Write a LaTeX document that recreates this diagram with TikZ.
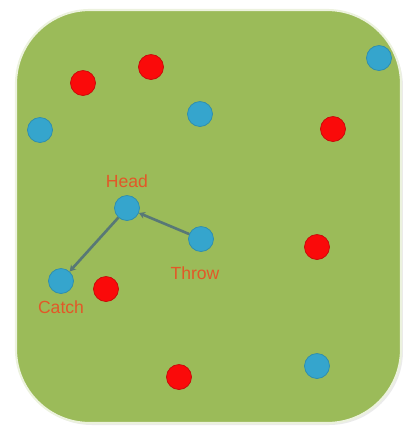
\documentclass[tikz,border=0pt]{standalone}
\usepackage{fontspec}
\setmainfont{Liberation Sans}
\usepackage{tikz}
\usetikzlibrary{positioning, arrows.meta}
\usepackage{xcolor}
\definecolor{field}{RGB}{155, 187, 89}
\definecolor{fieldrim}{RGB}{236, 242, 222}
\definecolor{teamA}{RGB}{53, 165, 205}
\definecolor{teamB}{RGB}{250, 10, 10}
\definecolor{pass}{RGB}{88, 120, 118}
\definecolor{tag}{RGB}{226, 88, 40}

\tikzset{
  bluedot/.style={circle, fill=teamA, draw=teamA!85!black, line width=0.4pt, minimum size=0.5cm, inner sep=0pt},
  reddot/.style={circle, fill=teamB, draw=teamB!80!black, line width=0.4pt, minimum size=0.5cm, inner sep=0pt},
  tagtext/.style={text=tag, font=\fontsize{10}{12}\selectfont, inner sep=0pt},
  passline/.style={->, pass, line width=1.5pt}
}

\begin{document}
\begin{tikzpicture}[x=0.02cm, y=-0.02cm, >={Stealth[length=3.5pt, width=4pt]}]
  \useasboundingbox (0,0) rectangle (405,427);
  % Playing field
  \fill[black!8, rounded corners=42] (18,13) rectangle (403,425);
  \fill[field, rounded corners=42] (16,10) rectangle (401,423);
  \draw[fieldrim, line width=1.2pt, rounded corners=42] (16,10) rectangle (401,423);

  % Red team
  \node[reddot] (r1) at (83,83) {};
  \node[reddot] (r2) at (151,67) {};
  \node[reddot] (r3) at (333,129) {};
  \node[reddot] (r4) at (317,247) {};
  \node[reddot] (r5) at (106,289) {};
  \node[reddot] (r6) at (179,377) {};

  % Blue team
  \node[bluedot] (b1) at (379,58) {};
  \node[bluedot] (b2) at (200,114) {};
  \node[bluedot] (b3) at (40,130) {};
  \node[bluedot] (head) at (127,208) {};
  \node[bluedot] (throw) at (201,239) {};
  \node[bluedot] (catch) at (61,281) {};
  \node[bluedot] (b7) at (317,366) {};

  % Labels
  \node[tagtext, above=0.14cm of head] (headtag) {Head};
  \node[tagtext, below=0.3cm of throw, xshift=-0.12cm] (throwtag) {Throw};
  \node[tagtext, below=0.14cm of catch] (catchtag) {Catch};

  % Passes
  \draw[passline] (throw) -- (head);
  \draw[passline] (head) -- (catch);
\end{tikzpicture}
\end{document}
